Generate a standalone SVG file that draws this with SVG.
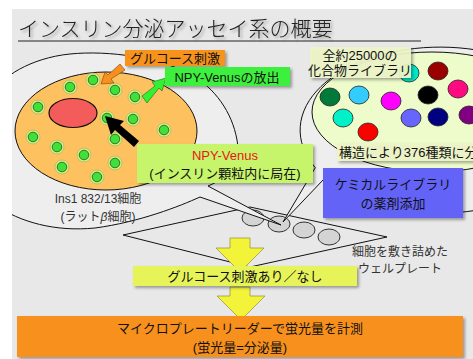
<svg xmlns="http://www.w3.org/2000/svg" width="473" height="359" viewBox="0 0 473 359">
  <defs>
    <filter id="shadow" x="-10%" y="-20%" width="130%" height="160%">
      <feGaussianBlur in="SourceAlpha" stdDeviation="1.5"/>
      <feOffset dx="1.5" dy="2" result="b"/>
      <feComponentTransfer><feFuncA type="linear" slope="0.35"/></feComponentTransfer>
      <feMerge><feMergeNode/><feMergeNode in="SourceGraphic"/></feMerge>
    </filter>
    <clipPath id="page">
      <rect x="12" y="9" width="461" height="350"/>
    </clipPath>
    <g id="granule">
      <circle r="7" fill="#d6ee8c" stroke="#9cb04a" stroke-width="0.6"/>
      <circle r="4.8" fill="#3fe03a" stroke="#1d5a12" stroke-width="0.8"/>
    </g>
    <g id="well">
      <ellipse rx="11" ry="8" fill="#d4d4d4" stroke="#333" stroke-width="1"/>
    </g>
  </defs>
  <style>
    text { font-family: "Liberation Sans", "Noto Sans CJK JP", sans-serif; }
    .lbl { font-size: 13px; fill: #111; text-anchor: middle; }
    .cap { font-size: 12px; fill: #333; text-anchor: middle; }
    .outline { fill: #eeeeee; stroke: #111; stroke-width: 1; stroke-linejoin: miter; }
    .cmp { stroke: #222; stroke-width: 0.8; }
  </style>

  <!-- page -->
  <rect x="0" y="0" width="473" height="359" fill="#ffffff"/>
  <rect x="12" y="9" width="461" height="350" fill="#e8e8e8"/>

  <g clip-path="url(#page)">
  <!-- title -->
  <g id="title">
    <text x="18" y="36" font-size="21" fill="#222" filter="url(#shadow)" style="font-family:'Noto Sans CJK JP',sans-serif;font-weight:300">インスリン分泌アッセイ系の概要</text>
    <line x1="18" y1="41" x2="421" y2="41" stroke="#222" stroke-width="1"/>
  </g>

  <!-- well plate -->
  <g id="plate">
    <path d="M123,235 L250,207 L387,237 L250,267 Z" fill="none" stroke="#111" stroke-width="1"/>
    <use href="#well" x="253" y="218"/>
    <use href="#well" x="279" y="224"/>
    <use href="#well" x="304" y="230"/>
    <use href="#well" x="329" y="237"/>
    <text class="cap" x="400" y="256">細胞を敷き詰めた</text>
    <text class="cap" x="400" y="273">ウェルプレート</text>
  </g>

  <!-- connectors: magnifier outlines whose tails point into a well -->
  <g id="connectors">
    <path id="cell-outline" class="outline" d="M-5,92 C0,78 30,58 70,54 C110,50 160,58 190,74 C215,88 232,112 237,140 C241,162 232,176 208,186 L281,225 L200,197 C180,206 140,222 95,228 C55,232 20,222 -5,205 Z"/>
    <path id="library-outline" class="outline" d="M315.3,167.7 A140,83 0 1 1 325.3,177.6 L283,222 Z"/>
  </g>

  <!-- cell -->
  <g id="cell">
    <ellipse cx="106" cy="131" rx="91" ry="59" fill="#fdc25f" stroke="#111" stroke-width="1"/>
    <ellipse cx="73" cy="113" rx="24" ry="14.5" fill="#f45b5b" stroke="#111" stroke-width="1.2"/>
    <use href="#granule" x="93" y="80"/>
    <use href="#granule" x="70" y="87"/>
    <use href="#granule" x="115" y="90"/>
    <use href="#granule" x="135" y="97"/>
    <use href="#granule" x="38" y="107"/>
    <use href="#granule" x="107" y="118"/>
    <use href="#granule" x="133" y="119"/>
    <use href="#granule" x="164" y="130"/>
    <use href="#granule" x="33" y="137"/>
    <use href="#granule" x="115" y="139"/>
    <use href="#granule" x="57" y="147"/>
    <use href="#granule" x="84" y="155"/>
    <use href="#granule" x="62" y="167"/>
    <use href="#granule" x="115" y="163"/>
    <use href="#granule" x="97" y="177"/>
    <text class="cap" x="98" y="203">Ins1 832/13細胞</text>
    <text class="cap" x="98" y="221">(ラット<tspan font-style="italic">β</tspan>細胞)</text>
  </g>

  <!-- compound library -->
  <g id="library">
    <ellipse cx="432" cy="112" rx="120" ry="60" fill="#eefccc" stroke="#111" stroke-width="1"/>
    <ellipse class="cmp" cx="409" cy="73" rx="10" ry="9" fill="#00e8c8"/>
    <ellipse class="cmp" cx="438" cy="71" rx="10" ry="9" fill="#9a0000"/>
    <ellipse class="cmp" cx="330" cy="97" rx="10" ry="9" fill="#007a3a"/>
    <ellipse class="cmp" cx="359" cy="95" rx="10" ry="9" fill="#33ccff"/>
    <ellipse class="cmp" cx="428" cy="95" rx="10" ry="9" fill="#000000"/>
    <ellipse class="cmp" cx="458" cy="89" rx="10" ry="9" fill="#ff0a80"/>
    <ellipse class="cmp" cx="391" cy="101" rx="10" ry="9" fill="#ff00ff"/>
    <ellipse class="cmp" cx="343" cy="118" rx="10" ry="9" fill="#00f0c8"/>
    <ellipse class="cmp" cx="411" cy="118" rx="10" ry="9" fill="#6666ff"/>
    <ellipse class="cmp" cx="438" cy="117" rx="10" ry="9" fill="#000080"/>
    <ellipse class="cmp" cx="469" cy="115" rx="10" ry="9" fill="#800080"/>
    <ellipse class="cmp" cx="368" cy="132" rx="10" ry="9" fill="#ff0000"/>
    <g filter="url(#shadow)">
      <rect x="310" y="47" width="101" height="31" fill="#eef5c8" fill-opacity="0.92"/>
    </g>
    <text class="lbl" x="360" y="60" font-size="12">全約25000の</text>
    <text class="lbl" x="360" y="75" font-size="12">化合物ライブラリ</text>
    <g filter="url(#shadow)">
      <rect x="337" y="143" width="140" height="18" fill="#eef5c8" fill-opacity="0.92"/>
    </g>
    <text class="lbl" x="339" y="157" font-size="12" style="text-anchor:start">構造により376種類に分類</text>
  </g>

  <!-- arrows -->
  <g id="arrows">
    <polygon points="120,64 125,70 111,79 114,83 101,84 105,72 108,75" fill="#f7901e" stroke="#7a4208" stroke-width="0.6"/>
    <polygon points="147,103 142,96 155,86 152,82 166,78 162,91 159,88" fill="#33f033" stroke="#1a6a1a" stroke-width="0.6"/>
    <polygon points="139,141 134,147 115,130 111,135 105,116 124,121 120,125" fill="#000"/>
    <polygon points="230,238 250,238 250,248 264,248 240,272 216,248 230,248" fill="#f3f33a" stroke="#9a9a40" stroke-width="0.8"/>
    <polygon points="230,287 250,287 250,296 265,296 241,320 217,296 230,296" fill="#f3f33a" stroke="#9a9a40" stroke-width="0.8"/>
  </g>

  <!-- labels -->
  <g id="label-glucose">
    <rect x="125" y="50" width="100" height="16" fill="#f7931e" filter="url(#shadow)"/>
    <text class="lbl" x="175" y="63">グルコース刺激</text>
  </g>
  <g id="label-release">
    <rect x="165" y="67" width="125" height="19" fill="#3cf03c" filter="url(#shadow)"/>
    <text class="lbl" x="227" y="82" font-size="14">NPY-Venusの放出</text>
  </g>
  <g id="label-npy">
    <rect x="137" y="144" width="176" height="39" fill="#c6f46a" filter="url(#shadow)"/>
    <text class="lbl" x="225" y="160" font-size="14" style="fill:#e8161b">NPY-Venus</text>
    <text class="lbl" x="225" y="178" font-size="14">(インスリン顆粒内に局在)</text>
  </g>
  <g id="label-drug">
    <rect x="323" y="168" width="140" height="50" fill="#6464f8" filter="url(#shadow)"/>
    <text class="lbl" x="393" y="189" font-size="14">ケミカルライブラリ</text>
    <text class="lbl" x="393" y="208" font-size="14">の薬剤添加</text>
  </g>
  <g id="label-stim">
    <rect x="133" y="266" width="224" height="20" fill="#e6f45a" filter="url(#shadow)"/>
    <text class="lbl" x="245" y="281" font-size="14">グルコース刺激あり／なし</text>
  </g>
  <g id="label-reader">
    <rect x="17" y="316" width="446" height="41" fill="#f7901e" filter="url(#shadow)"/>
    <text class="lbl" x="240" y="333" font-size="15">マイクロプレートリーダーで蛍光量を計測</text>
    <text class="lbl" x="240" y="352" font-size="15">(蛍光量=分泌量)</text>
  </g>
  </g>
</svg>
